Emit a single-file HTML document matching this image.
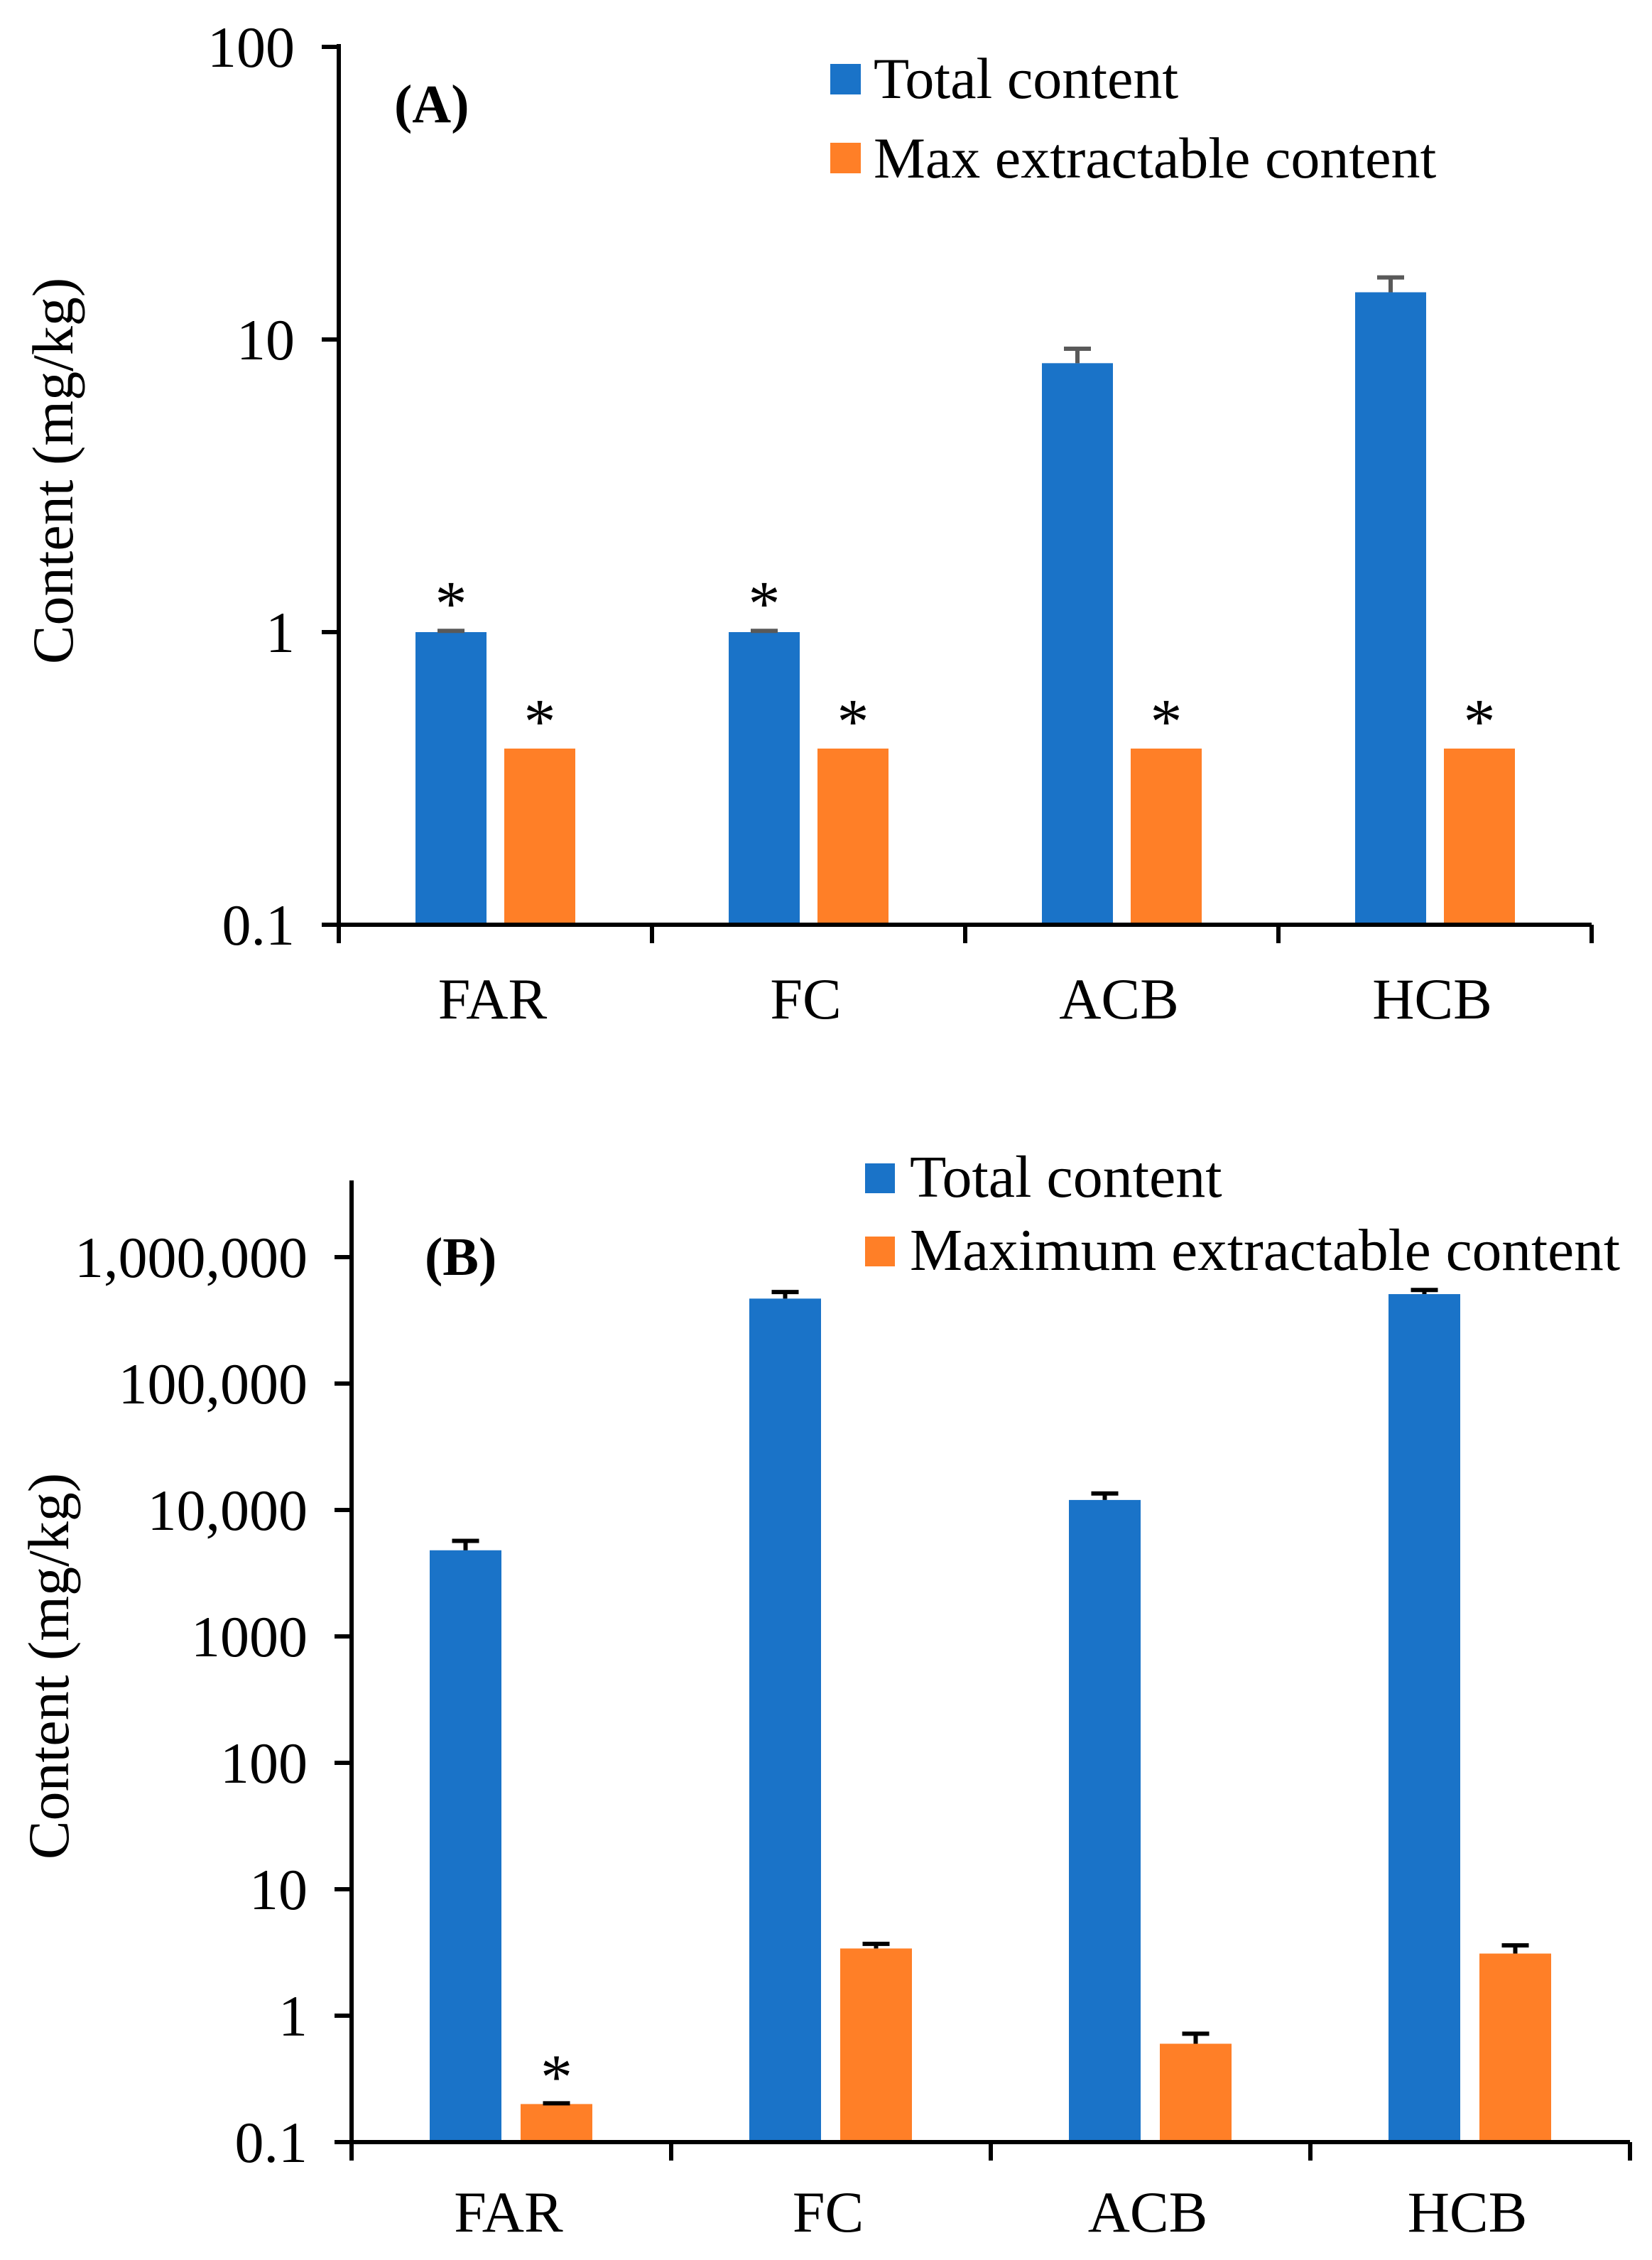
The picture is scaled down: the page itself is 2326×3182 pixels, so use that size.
<!DOCTYPE html>
<html><head><meta charset="utf-8"><style>
html,body{margin:0;padding:0;background:#fff;}
svg{display:block;font-family:"Liberation Serif","Times New Roman",serif;}
</style></head><body>
<svg id="chart" width="2326" height="3182" viewBox="0 0 2326 3182" xmlns="http://www.w3.org/2000/svg">
<rect width="2326" height="3182" fill="#fff"/>
<g id="panelA"></g>
<g id="panelB"></g>
</svg>
<script>
const categories = ["FAR", "FC", "ACB", "HCB"];
const aTotal = [1.0, 1.0, 8.3, 14.5];
const aTotalErr = [1.01, 1.01, 9.3, 16.3];
const aMax = [0.4, 0.4, 0.4, 0.4];
const aMaxErr = [0.4, 0.4, 0.4, 0.4];
const aTotalStar = [true, true, false, false];
const aMaxStar = [true, true, true, true];
const aTicks = [0.1, 1, 10, 100];
const aTickLabels = ["0.1", "1", "10", "100"];

const bTotal = [4800, 470000, 12000, 510000];
const bTotalErr = [5700, 530000, 13500, 550000];
const bMax = [0.2, 3.4, 0.6, 3.1];
const bMaxErr = [0.2, 3.7, 0.72, 3.6];
const bTotalStar = [false, false, false, false];
const bMaxStar = [true, false, false, false];
const bTicks = [0.1, 1, 10, 100, 1000, 10000, 100000, 1000000];
const bTickLabels = ["0.1", "1", "10", "100", "1000", "10,000", "100,000", "1,000,000"];

const NS = "http://www.w3.org/2000/svg";
function mk(parent, tag, attrs, text) {
  const e = document.createElementNS(NS, tag);
  for (const k in attrs) e.setAttribute(k, attrs[k]);
  if (text !== undefined) e.textContent = text;
  parent.appendChild(e);
  return e;
}

function drawPanel(g, cfg) {
  const yScale = v => cfg.base - (Math.log10(v) - Math.log10(cfg.min)) * cfg.decade;
  const xCat = i => cfg.ax + i * cfg.cw;
  for (let i = 0; i < categories.length; i++) {
    const x0 = xCat(i);
    const bx = x0 + cfg.bOff, ox = x0 + cfg.oOff;
    const by = yScale(cfg.total[i]);
    let r = mk(g, "rect", {x: bx, y: by, width: cfg.bw, height: cfg.base - by, fill: "#1a73c8"});
    
    
    const oy = yScale(cfg.max[i]);
    r = mk(g, "rect", {x: ox, y: oy, width: cfg.bw, height: cfg.base - oy, fill: "#ff7f27"});
    
    
    const ey = yScale(cfg.totalErr[i]);
    let eb = mk(g, "path", {d: `M${bx + cfg.bw/2},${by} V${ey} M${bx + cfg.bw/2 - 19},${ey} H${bx + cfg.bw/2 + 19}`, stroke: cfg.errColor, "stroke-width": 6, fill: "none"});
    
    
    if (cfg.maxErr[i] > cfg.max[i] || cfg.showMaxErr) {
      const ey2 = Math.min(yScale(cfg.maxErr[i]), oy - 1);
      eb = mk(g, "path", {d: `M${ox + cfg.bw/2},${oy} V${ey2} M${ox + cfg.bw/2 - 19},${ey2} H${ox + cfg.bw/2 + 19}`, stroke: cfg.errColor, "stroke-width": 6, fill: "none"});
      
      
    }
    if (cfg.totalStar[i]) {
      const s = mk(g, "text", {x: bx + cfg.bw/2, y: yScale(cfg.totalErr[i]) - 8, "font-size": 90, "text-anchor": "middle", fill: "#000"}, "*");
      
      
    }
    if (cfg.maxStar[i]) {
      const s = mk(g, "text", {x: ox + cfg.bw/2, y: yScale(cfg.maxErr[i]) - 8, "font-size": 90, "text-anchor": "middle", fill: "#000"}, "*");
      
      
    }
    const cl = mk(g, "text", {x: x0 + cfg.cw/2 - 4, y: cfg.catY, "font-size": 82, "text-anchor": "middle", fill: "#000"}, categories[i]);
    
    
  }
  const xEnd = xCat(categories.length);
  let ax = mk(g, "path", {d: `M${cfg.ax},${cfg.top} V${cfg.base} H${xEnd}`, stroke: "#000", "stroke-width": 6, fill: "none"});
  
  
  for (let i = 0; i <= categories.length; i++) {
    const t = mk(g, "line", {x1: xCat(i), x2: xCat(i), y1: cfg.base, y2: cfg.base + 26, stroke: "#000", "stroke-width": 6});
    
    
  }
  for (let i = 0; i < cfg.ticks.length; i++) {
    const y = yScale(cfg.ticks[i]);
    const t = mk(g, "line", {x1: cfg.ax - 24, x2: cfg.ax, y1: y, y2: y, stroke: "#000", "stroke-width": 6});
    
    
    const l = mk(g, "text", {x: cfg.ax - 62, y: y + 28, "font-size": 82, "text-anchor": "end", fill: "#000"}, cfg.tickLabels[i]);
    
    
  }
}

const gA = document.getElementById("panelA");
drawPanel(gA, {ax: 477, base: 1302, decade: 412, min: 0.1, top: 62, cw: 441, bOff: 108, oOff: 233, bw: 100,
  total: aTotal, totalErr: aTotalErr, max: aMax, maxErr: aMaxErr, totalStar: aTotalStar, maxStar: aMaxStar,
  ticks: aTicks, tickLabels: aTickLabels, catY: 1434, errColor: "#595959", showMaxErr: false});
const gB = document.getElementById("panelB");
drawPanel(gB, {ax: 495, base: 3016, decade: 178, min: 0.1, top: 1662, cw: 450, bOff: 110, oOff: 238, bw: 101,
  total: bTotal, totalErr: bTotalErr, max: bMax, maxErr: bMaxErr, totalStar: bTotalStar, maxStar: bMaxStar,
  ticks: bTicks, tickLabels: bTickLabels, catY: 3142, errColor: "#000", showMaxErr: true});
</script>
<svg style="position:absolute;left:0;top:0" width="2326" height="3182" xmlns="http://www.w3.org/2000/svg">
<g font-family="Liberation Serif, Times New Roman, serif" fill="#000">
<text x="555" y="172" font-size="76" font-weight="bold">(A)</text>
<rect x="1169" y="90" width="43" height="43" fill="#1a73c8"/>
<text x="1230" y="138" font-size="82">Total content</text>
<rect x="1169" y="201" width="43" height="43" fill="#ff7f27"/>
<text x="1230" y="250" font-size="82">Max extractable content</text>
<text transform="translate(102,663) rotate(-90)" font-size="82" text-anchor="middle">Content (mg/kg)</text>

<text x="598" y="1795" font-size="76" font-weight="bold">(B)</text>
<rect x="1218" y="1638" width="42" height="42" fill="#1a73c8"/>
<text x="1281" y="1685" font-size="84">Total content</text>
<rect x="1218" y="1741" width="42" height="42" fill="#ff7f27"/>
<text x="1281" y="1788" font-size="84" textLength="1000" lengthAdjust="spacingAndGlyphs">Maximum extractable content</text>
<text transform="translate(96,2346) rotate(-90)" font-size="82" text-anchor="middle">Content (mg/kg)</text>
</g>
</svg>
</body></html>
